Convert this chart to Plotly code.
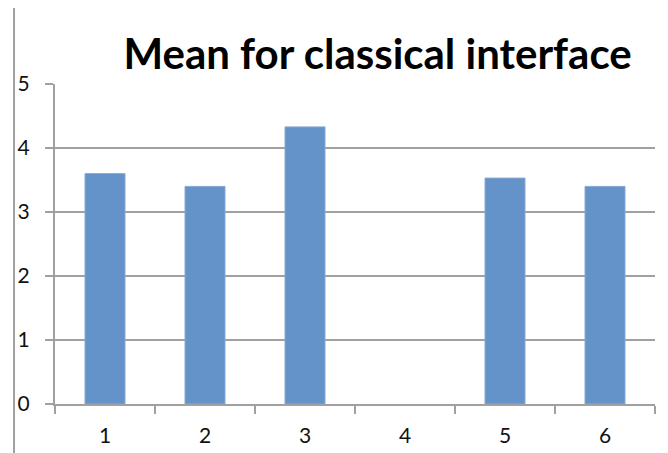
import plotly.graph_objects as go

categories = ["1", "2", "3", "4", "5", "6"]
means = [3.6, 3.4, 4.33, None, 3.53, 3.4]
y_ticks = [0, 1, 2, 3, 4, 5]
title_text = "Mean for classical interface"

fig = go.Figure(
    go.Bar(
        x=categories,
        y=means,
        width=0.4,
        marker=dict(color="#6393C8", line=dict(color="#86A9D6", width=1)),
    )
)

fig.update_layout(
    width=660,
    height=445,
    margin=dict(l=47, r=13, t=76, b=48.5),
    paper_bgcolor="white",
    plot_bgcolor="white",
    showlegend=False,
    font=dict(family="Lato", size=16, color="#000000"),
    title=dict(
        text=f"<b>{title_text}</b>",
        font=dict(family="Lato", size=42, color="#000000"),
        x=0.56,
        xanchor="center",
        y=0.897,
        yanchor="middle",
    ),
)

fig.update_xaxes(
    type="category",
    range=[-0.5, 5.5],
    tickson="boundaries",
    ticks="outside",
    ticklen=8,
    tickwidth=2,
    tickcolor="#a0a0a0",
    showline=True,
    linecolor="#a0a0a0",
    linewidth=2,
    showgrid=False,
    automargin=False,
    ticklabelstandoff=12,
    tickfont=dict(family="Lato", size=21, color="#111111"),
)

fig.update_yaxes(
    range=[0, 5],
    tickvals=y_ticks,
    ticks="outside",
    ticklen=8,
    tickwidth=2,
    tickcolor="#a0a0a0",
    showline=True,
    linecolor="#a0a0a0",
    linewidth=2,
    showgrid=True,
    gridcolor="#a0a0a0",
    gridwidth=2,
    zeroline=False,
    automargin=False,
    ticklabelstandoff=11,
    tickfont=dict(family="Lato", size=21, color="#111111"),
)

# chart border on the left edge
fig.add_shape(
    type="line", xref="paper", yref="paper",
    x0=-0.0683, x1=-0.0683, y0=-0.3, y1=1.3,
    line=dict(color="#a0a0a0", width=2),
)

fig.write_html("out.html")
